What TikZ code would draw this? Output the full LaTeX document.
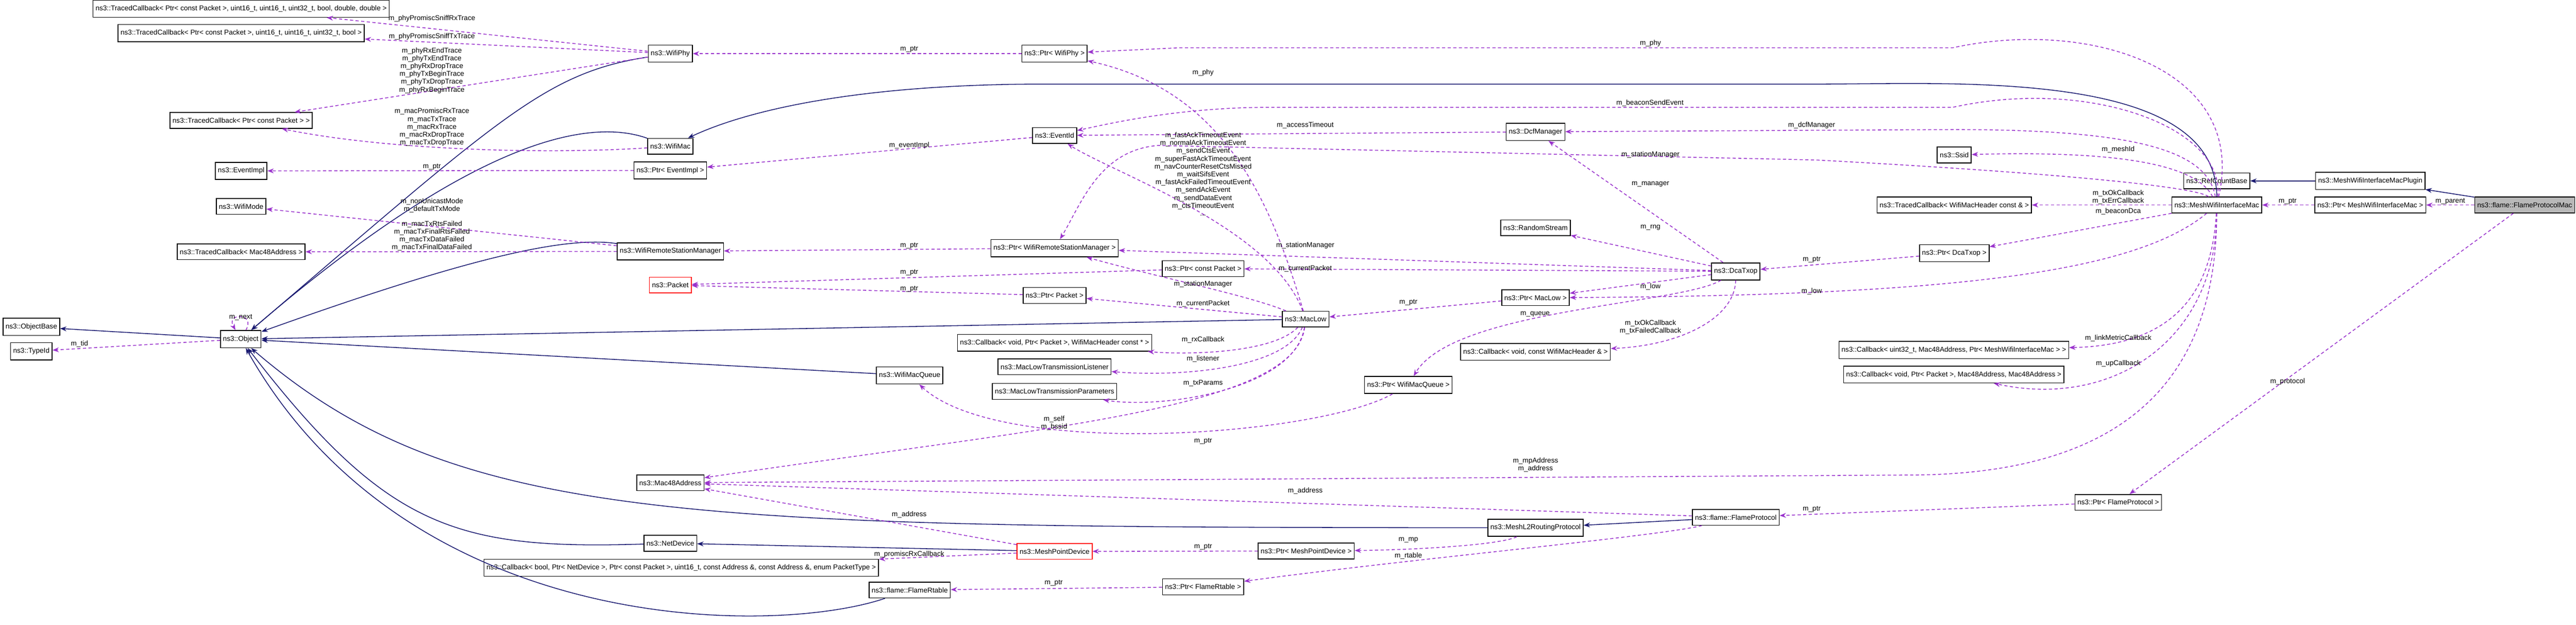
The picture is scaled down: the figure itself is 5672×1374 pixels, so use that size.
\documentclass[tikz,border=0pt]{standalone}
\usepackage{fontspec}
\setmainfont{Liberation Sans}
\usetikzlibrary{arrows.meta}
\definecolor{inhcol}{RGB}{25,25,112}
\definecolor{usecol}{RGB}{153,50,204}
\begin{document}
\begin{tikzpicture}[x=0.01cm, y=-0.01cm,
    cls/.style = {draw, line width=0.5pt, fill=white, font=\fontsize{4.4}{5}\selectfont, inner xsep=1.6pt, minimum height=0.27cm},
    inh/.style = {draw=inhcol, line width=0.5pt, -{Stealth[length=4pt,width=3pt]}},
    use/.style = {draw=usecol, line width=0.5pt, dashed, dash pattern=on 2pt off 1.5pt, -{Stealth[length=4pt,width=3pt]}},
    lbl/.style = {font=\fontsize{4.4}{4.9}\selectfont, align=center, inner sep=0pt}]
    \useasboundingbox (0,0) rectangle (5672,1374);
    % column 1
    \node[cls] (tcbsniffrx) at (531,19) {ns3::TracedCallback< Ptr< const Packet >, uint16\_t, uint16\_t, uint32\_t, bool, double, double >};
    \node[cls] (tcbsnifftx) at (531,73) {ns3::TracedCallback< Ptr< const Packet >, uint16\_t, uint16\_t, uint32\_t, bool >};
    \node[cls] (tcbpkt) at (531,265) {ns3::TracedCallback< Ptr< const Packet > >};
    \node[cls] (evimpl) at (531,376) {ns3::EventImpl};
    \node[cls] (wifimode) at (531,454) {ns3::WifiMode};
    \node[cls] (tcbmac48) at (531,554) {ns3::TracedCallback< Mac48Address >};
    \node[cls] (objbase) at (69,719) {ns3::ObjectBase};
    \node[cls] (typeid) at (69,773) {ns3::TypeId};
    \node[cls] (object) at (530,746) {ns3::Object};
    % column 2
    \node[cls] (wifiphy) at (1476,118) {ns3::WifiPhy};
    \node[cls] (wifimac) at (1476,322) {ns3::WifiMac};
    \node[cls] (ptrevimpl) at (1476,375) {ns3::Ptr< EventImpl >};
    \node[cls] (wrsm) at (1476,553) {ns3::WifiRemoteStationManager};
    \node[cls, draw=red] (packet) at (1476,627) {ns3::Packet};
    \node[cls] (mac48) at (1476,1062) {ns3::Mac48Address};
    \node[cls] (netdevice) at (1476,1195) {ns3::NetDevice};
    \node[cls] (cbpromisc) at (1500,1249) {ns3::Callback< bool, Ptr< NetDevice >, Ptr< const Packet >, uint16\_t, const Address \&, const Address \&, enum PacketType >};
    \node[cls] (macqueue) at (2003,826) {ns3::WifiMacQueue};
    \node[cls] (flamertable) at (2003,1298) {ns3::flame::FlameRtable};
    % column 3
    \node[cls] (ptrphy) at (2322,118) {ns3::Ptr< WifiPhy >};
    \node[cls] (eventid) at (2322,298) {ns3::EventId};
    \node[cls] (ptrwrsm) at (2322,546) {ns3::Ptr< WifiRemoteStationManager >};
    \node[cls] (ptrpacket) at (2322,650) {ns3::Ptr< Packet >};
    \node[cls] (cbrx) at (2322,754) {ns3::Callback< void, Ptr< Packet >, WifiMacHeader const * >};
    \node[cls] (mllistener) at (2322,807) {ns3::MacLowTransmissionListener};
    \node[cls] (mlparams) at (2322,861) {ns3::MacLowTransmissionParameters};
    \node[cls, draw=red] (mpdevice) at (2322,1213) {ns3::MeshPointDevice};
    \node[cls] (ptrcpacket) at (2649,591) {ns3::Ptr< const Packet >};
    \node[cls] (ptrrtable) at (2649,1291) {ns3::Ptr< FlameRtable >};
    \node[cls] (maclow) at (2875,702) {ns3::MacLow};
    \node[cls] (ptrmpdev) at (2876,1212) {ns3::Ptr< MeshPointDevice >};
    \node[cls] (ptrqueue) at (3101,847) {ns3::Ptr< WifiMacQueue >};
    % column 4
    \node[cls] (dcfmgr) at (3381,290) {ns3::DcfManager};
    \node[cls] (rndstream) at (3381,501) {ns3::RandomStream};
    \node[cls] (ptrmaclow) at (3381,655) {ns3::Ptr< MacLow >};
    \node[cls] (cbwmh) at (3381,774) {ns3::Callback< void, const WifiMacHeader \& >};
    \node[cls] (l2routing) at (3381,1161) {ns3::MeshL2RoutingProtocol};
    \node[cls] (dcatxop) at (3822,597) {ns3::DcaTxop};
    \node[cls] (flameproto) at (3822,1138) {ns3::flame::FlameProtocol};
    \node[cls] (ssid) at (4303,341) {ns3::Ssid};
    \node[cls] (tcbwmh) at (4303,451) {ns3::TracedCallback< WifiMacHeader const \& >};
    \node[cls] (ptrdca) at (4303,557) {ns3::Ptr< DcaTxop >};
    \node[cls] (cblinkmetric) at (4302,770) {ns3::Callback< uint32\_t, Mac48Address, Ptr< MeshWifiInterfaceMac > >};
    \node[cls] (cbup) at (4302,824) {ns3::Callback< void, Ptr< Packet >, Mac48Address, Mac48Address >};
    \node[cls] (ptrflame) at (4664,1105) {ns3::Ptr< FlameProtocol >};
    \node[cls] (refcount) at (4881,398) {ns3::RefCountBase};
    \node[cls] (mwim) at (4881,451) {ns3::MeshWifiInterfaceMac};
    \node[cls] (plugin) at (5219,398) {ns3::MeshWifiInterfaceMacPlugin};
    \node[cls] (ptrmwim) at (5219,451) {ns3::Ptr< MeshWifiInterfaceMac >};
    \node[cls, fill=gray!55] (flamemac) at (5559,451) {ns3::flame::FlameProtocolMac};

    % inheritance
    \draw[inh] (object) -- (objbase);
    \draw[inh] (wifiphy) .. controls (1200,160) and (1100,260) .. (object);
    \draw[inh] (wifimac) .. controls (1300,260) and (1050,300) .. (object);
    \draw[inh] (wrsm) .. controls (1250,520) and (1050,560) .. (object);
    \draw[inh] (maclow) -- (object);
    \draw[inh] (macqueue) -- (object);
    \draw[inh] (l2routing) .. controls (1500,1160) and (1000,1150) .. (object);
    \draw[inh] (netdevice) .. controls (1000,1210) and (850,1160) .. (object);
    \draw[inh] (flamertable) .. controls (1700,1400) and (900,1400) .. (object);
    \draw[inh] (mwim) .. controls (4880,150) and (4300,185) .. (4000,185) -- (2300,185) .. controls (1900,185) and (1650,240) .. (wifimac);
    \draw[inh] (mpdevice) -- (netdevice);
    \draw[inh] (flameproto) -- (l2routing);
    \draw[inh] (flamemac) -- (plugin);
    \draw[inh] (plugin) -- (refcount);

    % members
    \draw[use] (object) to[out=60, in=120, looseness=5] (object);
    \node[lbl] at (530,698) {m\_next};
    \draw[use] (object) -- (typeid);
    \node[lbl] at (175,757) {m\_tid};
    \draw[use] (wifiphy) -- (tcbsniffrx);
    \node[lbl] at (951,41) {m\_phyPromiscSniffRxTrace};
    \draw[use] (wifiphy) -- (tcbsnifftx);
    \node[lbl] at (951,81) {m\_phyPromiscSniffTxTrace};
    \draw[use] (wifiphy) -- (tcbpkt);
    \node[lbl] at (951,155) {m\_phyRxEndTrace\\m\_phyTxEndTrace\\m\_phyRxDropTrace\\m\_phyTxBeginTrace\\m\_phyTxDropTrace\\m\_phyRxBeginTrace};
    \draw[use] (wifimac) .. controls (1200,340) and (850,330) .. (tcbpkt);
    \node[lbl] at (951,280) {m\_macPromiscRxTrace\\m\_macTxTrace\\m\_macRxTrace\\m\_macRxDropTrace\\m\_macTxDropTrace};
    \draw[use] (ptrevimpl) -- (evimpl);
    \node[lbl] at (951,367) {m\_ptr};
    \draw[use] (wrsm) -- (wifimode);
    \node[lbl] at (951,452) {m\_nonUnicastMode\\m\_defaultTxMode};
    \draw[use] (wrsm) -- (tcbmac48);
    \node[lbl] at (951,519) {m\_macTxRtsFailed\\m\_macTxFinalRtsFailed\\m\_macTxDataFailed\\m\_macTxFinalDataFailed};
    \draw[use] (ptrphy) -- (wifiphy);
    \node[lbl] at (2002,108) {m\_ptr};
    \draw[use] (eventid) -- (ptrevimpl);
    \node[lbl] at (2002,320) {m\_eventImpl};
    \draw[use] (ptrwrsm) -- (wrsm);
    \node[lbl] at (2002,540) {m\_ptr};
    \draw[use] (ptrcpacket) -- (packet);
    \node[lbl] at (2002,600) {m\_ptr};
    \draw[use] (ptrpacket) -- (packet);
    \node[lbl] at (2002,636) {m\_ptr};
    \draw[use] (maclow) .. controls (2800,450) and (2700,200) .. (ptrphy);
    \node[lbl] at (2649,160) {m\_phy};
    \draw[use] (mwim) .. controls (4950,150) and (4600,40) .. (4300,105) -- (2600,105) -- (ptrphy);
    \node[lbl] at (3634,95) {m\_phy};
    \draw[use] (mwim) .. controls (4900,280) and (4600,170) .. (4300,236) -- (2800,236) .. controls (2600,236) and (2450,270) .. (eventid);
    \node[lbl] at (3633,227) {m\_beaconSendEvent};
    \draw[use] (dcfmgr) -- (eventid);
    \node[lbl] at (2874,276) {m\_accessTimeout};
    \draw[use] (maclow) .. controls (2800,500) and (2450,380) .. (eventid);
    \node[lbl] at (2649,383) {m\_fastAckTimeoutEvent\\m\_normalAckTimeoutEvent\\m\_sendCtsEvent\\m\_superFastAckTimeoutEvent\\m\_navCounterResetCtsMissed\\m\_waitSifsEvent\\m\_fastAckFailedTimeoutEvent\\m\_sendAckEvent\\m\_sendDataEvent\\m\_ctsTimeoutEvent\\...};
    \draw[use] (mwim) .. controls (4860,330) and (4700,285) .. (4300,285) -- (dcfmgr);
    \node[lbl] at (3989,276) {m\_dcfManager};
    \draw[use] (mwim) .. controls (4850,420) and (4700,390) .. (4000,352) -- (2550,320) .. controls (2420,330) and (2380,450) .. (ptrwrsm);
    \node[lbl] at (3634,340) {m\_stationManager};
    \draw[use] (dcatxop) -- (dcfmgr);
    \node[lbl] at (3634,405) {m\_manager};
    \draw[use] (dcatxop) -- (rndstream);
    \node[lbl] at (3634,501) {m\_rng};
    \draw[use] (dcatxop) -- (ptrwrsm);
    \node[lbl] at (2874,540) {m\_stationManager};
    \draw[use] (dcatxop) -- (ptrcpacket);
    \node[lbl] at (2874,591) {m\_currentPacket};
    \draw[use] (maclow) .. controls (2750,650) and (2550,610) .. (ptrwrsm);
    \node[lbl] at (2649,625) {m\_stationManager};
    \draw[use] (maclow) -- (ptrpacket);
    \node[lbl] at (2649,668) {m\_currentPacket};
    \draw[use] (dcatxop) -- (ptrmaclow);
    \node[lbl] at (3634,631) {m\_low};
    \draw[use] (mwim) .. controls (4700,600) and (4300,650) .. (ptrmaclow);
    \node[lbl] at (3989,641) {m\_low};
    \draw[use] (ptrmaclow) -- (maclow);
    \node[lbl] at (3101,665) {m\_ptr};
    \draw[use] (dcatxop) .. controls (3700,670) and (3200,680) .. (ptrqueue);
    \node[lbl] at (3380,691) {m\_queue};
    \draw[use] (dcatxop) .. controls (3820,700) and (3700,760) .. (cbwmh);
    \node[lbl] at (3634,720) {m\_txOkCallback\\m\_txFailedCallback};
    \draw[use] (maclow) .. controls (2800,780) and (2600,780) .. (cbrx);
    \node[lbl] at (2649,748) {m\_rxCallback};
    \draw[use] (maclow) .. controls (2830,810) and (2600,830) .. (mllistener);
    \node[lbl] at (2649,789) {m\_listener};
    \draw[use] (maclow) .. controls (2850,860) and (2550,900) .. (mlparams);
    \node[lbl] at (2649,843) {m\_txParams};
    \draw[use] (maclow) .. controls (2850,900) and (2300,940) .. (mac48);
    \node[lbl] at (2321,931) {m\_self\\m\_bssid};
    \draw[use] (ptrqueue) .. controls (2900,960) and (2200,1010) .. (macqueue);
    \node[lbl] at (2649,971) {m\_ptr};
    \draw[use] (mwim) .. controls (4880,900) and (4600,1045) .. (4200,1045) -- (mac48);
    \node[lbl] at (3381,1023) {m\_mpAddress\\m\_address};
    \draw[use] (flameproto) -- (mac48);
    \node[lbl] at (2874,1080) {m\_address};
    \draw[use] (mpdevice) -- (mac48);
    \node[lbl] at (2002,1132) {m\_address};
    \draw[use] (mpdevice) -- (cbpromisc);
    \node[lbl] at (2002,1220) {m\_promiscRxCallback};
    \draw[use] (ptrrtable) -- (flamertable);
    \node[lbl] at (2320,1283) {m\_ptr};
    \draw[use] (ptrmpdev) -- (mpdevice);
    \node[lbl] at (2649,1203) {m\_ptr};
    \draw[use] (l2routing) .. controls (3300,1200) and (3100,1210) .. (ptrmpdev);
    \node[lbl] at (3101,1188) {m\_mp};
    \draw[use] (flameproto) .. controls (3650,1180) and (3100,1230) .. (ptrrtable);
    \node[lbl] at (3101,1223) {m\_rtable};
    \draw[use] (mwim) .. controls (4840,370) and (4700,330) .. (ssid);
    \node[lbl] at (4664,329) {m\_meshId};
    \draw[use] (mwim) -- (tcbwmh);
    \node[lbl] at (4664,434) {m\_txOkCallback\\m\_txErrCallback};
    \draw[use] (mwim) -- (ptrdca);
    \node[lbl] at (4664,465) {m\_beaconDca};
    \draw[use] (ptrdca) -- (dcatxop);
    \node[lbl] at (3989,571) {m\_ptr};
    \draw[use] (mwim) .. controls (4870,650) and (4780,760) .. (cblinkmetric);
    \node[lbl] at (4664,744) {m\_linkMetricCallback};
    \draw[use] (mwim) .. controls (4880,750) and (4650,900) .. (cbup);
    \node[lbl] at (4664,800) {m\_upCallback};
    \draw[use] (ptrmwim) -- (mwim);
    \node[lbl] at (5037,443) {m\_ptr};
    \draw[use] (flamemac) -- (ptrmwim);
    \node[lbl] at (5395,443) {m\_parent};
    \draw[use] (flamemac) -- (ptrflame);
    \node[lbl] at (5037,839) {m\_protocol};
    \draw[use] (ptrflame) -- (flameproto);
    \node[lbl] at (3989,1120) {m\_ptr};
\end{tikzpicture}
\end{document}
